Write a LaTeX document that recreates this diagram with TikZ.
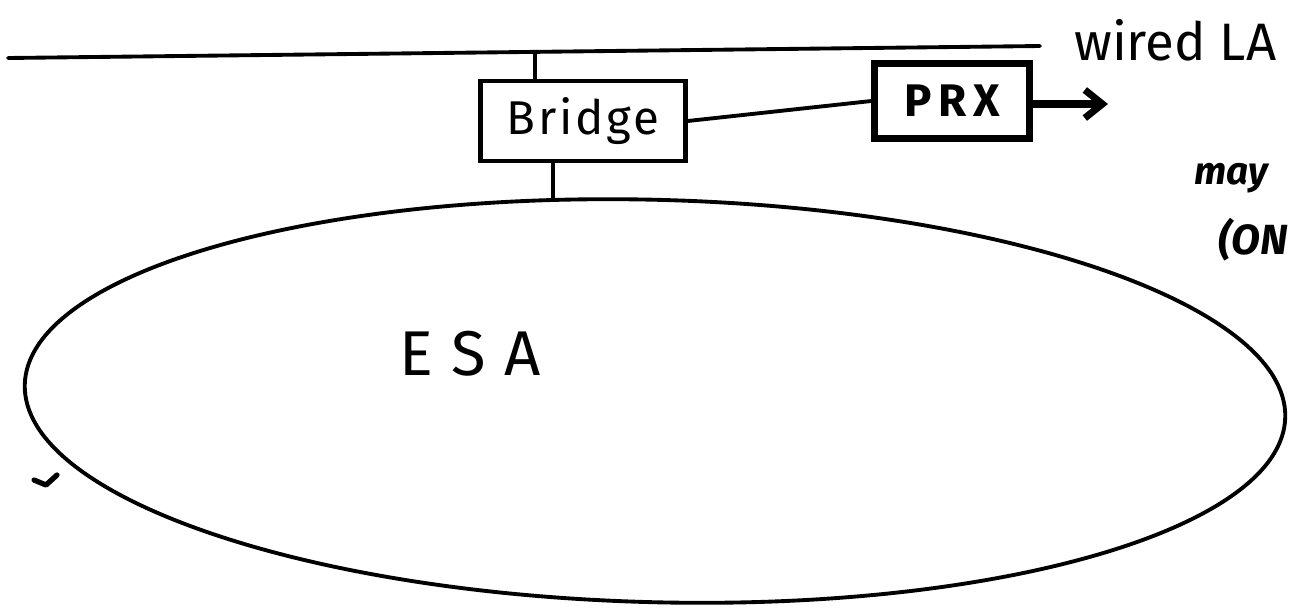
\documentclass[tikz,border=0pt]{standalone}
\usepackage{fontspec}
\setmainfont{Fira Sans}
\usetikzlibrary{arrows.meta,shapes.geometric}
\begin{document}
\begin{tikzpicture}[x=0.02cm,y=-0.02cm,
  pen/.style={line width=2.2pt, line cap=round, line join=round},
  heavy/.style={line width=4pt, line cap=round, line join=round},
  boxstyle/.style={draw, line width=2.4pt, inner sep=0pt},
  hand/.style={font=\fontsize{24}{26}\selectfont}]
\useasboundingbox (0,0) rectangle (1291,613);
% wired LAN
\coordinate (lanL) at (8,58);
\coordinate (lanR) at (1040,46);
\draw[pen] (lanL) -- (lanR);
\node[hand, anchor=west, font=\fontsize{30}{32}\selectfont] (lanlab) at (1068,40) {wired LA};
% Bridge
\node[boxstyle, minimum width=206*0.5669pt, minimum height=80*0.5669pt, font=\addfontfeature{LetterSpace=6}\fontsize{27}{29}\selectfont] (bridge) at (583,121) {Bridge};
\coordinate (tapTop) at (535,52);
\draw[pen] (tapTop) -- (bridge.north -| tapTop);
% ESA ellipse
\node[draw, line width=2.2pt, ellipse, rotate=-1.5, minimum width=1266*0.5669pt, minimum height=404*0.5669pt, inner sep=0pt] (esa) at (655,401) {};
\draw[pen] (bridge.south -| 553,0) -- (553,198);
\node[font=\addfontfeature{LetterSpace=30}\fontsize{36}{38}\selectfont] (esalab) at (470,354) {ESA};
% PRX
\node[boxstyle, line width=4pt, minimum width=155*0.5669pt, minimum height=75*0.5669pt, font=\addfontfeature{LetterSpace=15}\bfseries\fontsize{26}{28}\selectfont] (prx) at (952,101) {PRX};
\draw[pen] (bridge.east) -- (prx.west);
\coordinate (arrEnd) at (1108,104);
\draw[heavy, -{Straight Barb[length=10pt,width=16pt,line width=4pt]}] (prx.east |- arrEnd) -- (arrEnd);
% side notes
\node[hand, anchor=west, font=\itshape\bfseries\fontsize{22}{24}\selectfont] (may) at (1188,178) {may};
\node[hand, anchor=west, font=\itshape\bfseries\fontsize{24}{26}\selectfont] (on) at (1212,240) {(ON};
% tick mark
\coordinate (t1) at (34,480);
\coordinate (t2) at (46,485);
\coordinate (t3) at (57,475);
\draw[heavy, line width=3pt] (t1) -- (t2) -- (t3);
\end{tikzpicture}
\end{document}
